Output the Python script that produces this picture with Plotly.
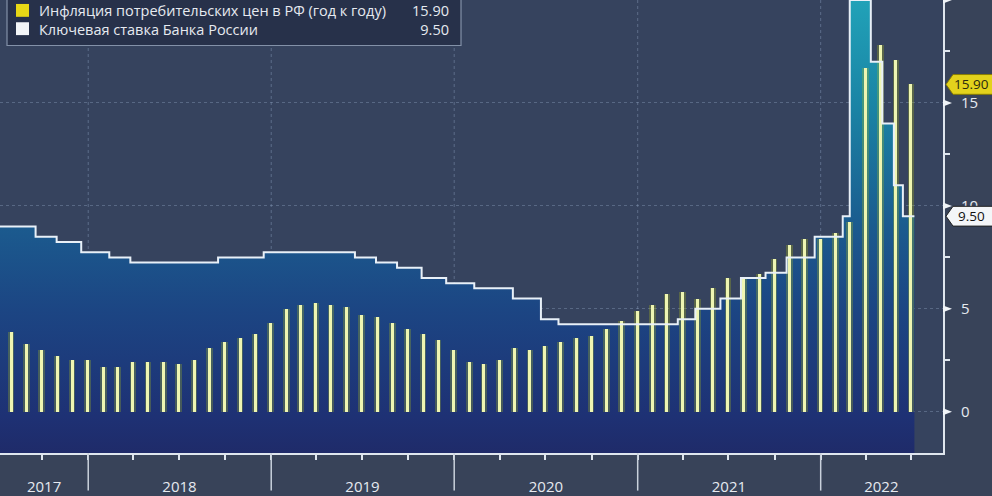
import plotly.graph_objects as go
import pandas as pd

# ---------------- data ----------------
inflation_dates = pd.date_range("2017-07-31", "2022-06-30", freq="ME")
inflation = [3.9, 3.3, 3.0, 2.7, 2.5, 2.5,
             2.2, 2.2, 2.4, 2.4, 2.4, 2.3, 2.5, 3.1, 3.4, 3.6, 3.8, 4.3,
             5.0, 5.2, 5.3, 5.2, 5.1, 4.7, 4.6, 4.3, 4.0, 3.8, 3.5, 3.0,
             2.4, 2.3, 2.5, 3.1, 3.0, 3.2, 3.4, 3.6, 3.7, 4.0, 4.4, 4.9,
             5.2, 5.7, 5.8, 5.5, 6.0, 6.5, 6.5, 6.7, 7.4, 8.1, 8.4, 8.4,
             8.7, 9.2, 16.7, 17.8, 17.1, 15.9]

rate_dates = ["2017-07-09", "2017-09-18", "2017-10-30", "2017-12-18", "2018-02-12",
              "2018-03-26", "2018-09-17", "2018-12-17", "2019-06-17", "2019-07-29",
              "2019-09-09", "2019-10-28", "2019-12-16", "2020-02-10", "2020-04-27",
              "2020-06-22", "2020-07-27", "2021-03-22", "2021-04-26", "2021-06-15",
              "2021-07-26", "2021-09-13", "2021-10-25", "2021-12-20", "2022-02-14",
              "2022-02-28", "2022-04-11", "2022-05-04", "2022-05-27", "2022-06-14",
              "2022-07-07"]
rate_values = [9.00, 8.50, 8.25, 7.75, 7.50,
               7.25, 7.50, 7.75, 7.50, 7.25,
               7.00, 6.50, 6.25, 6.00, 5.50,
               4.50, 4.25, 4.50, 5.00, 5.50,
               6.50, 6.75, 7.50, 8.50, 9.50,
               20.00, 17.00, 14.00, 11.00, 9.50,
               9.50]

series_names = ["Инфляция потребительских цен в РФ (год к году)", "Ключевая ставка Банка России"]
last_values = ["15.90", "9.50"]

year_labels = ["2017", "2018", "2019", "2020", "2021", "2022"]
year_label_pos = ["2017-10-05", "2018-07-02", "2019-07-02", "2020-07-02", "2021-07-02", "2022-05-02"]
year_bounds = ["2018-01-01", "2019-01-01", "2020-01-01", "2021-01-01", "2022-01-01"]
quarter_ticks = [d.strftime("%Y-%m-%d") for d in pd.date_range("2017-10-01", "2022-07-01", freq="QS")]
y_ticks = [0, 5, 10, 15, 20]
y_minor = [2.5, 7.5, 12.5, 17.5]

X_RANGE = ["2017-07-09", "2022-09-02"]
Y_RANGE = [-2, 20]

# ---------------- geometry helpers ----------------
W, H = 992, 496
ML, MR, MT, MB = 0, 49, 0, 38
PW, PH = W - ML - MR, H - MT - MB


def px_x(px):  # pixel -> paper x
    return (px - ML) / PW


def py_y(py):  # pixel from top -> paper y
    return 1 - (py - MT) / PH


def val_y(v):  # data y -> paper y
    return (v - Y_RANGE[0]) / (Y_RANGE[1] - Y_RANGE[0])


DAY_MS = 86400000
BG_PLOT = "#36435e"
BG_PAPER = "#384359"
TXT = "#e6eaf0"
FONT = "Open Sans"

fig = go.Figure()

# baseline for the area fill (bottom of the plot)
fig.add_trace(go.Scatter(x=[X_RANGE[0], rate_dates[-1]], y=[Y_RANGE[0], Y_RANGE[0]],
                         mode="lines", line=dict(width=0, color="rgba(0,0,0,0)"),
                         hoverinfo="skip", showlegend=False))
# key rate area (fill only, on base axis)
fig.add_trace(go.Scatter(
    x=rate_dates, y=rate_values, mode="lines", line_shape="hv",
    line=dict(color="rgba(0,0,0,0)", width=0),
    fill="tonexty",
    fillgradient=dict(type="vertical", start=Y_RANGE[0], stop=Y_RANGE[1],
                      colorscale=[[0.0, "#1f2a68"], [0.09, "#1e3174"], [0.32, "#1c4583"],
                                  [0.50, "#1b5a8e"], [0.77, "#1a84a5"], [1.0, "#21a2b8"]]),
    hoverinfo="skip", showlegend=False))

# inflation bars: glow + core (overlay axis so they sit above the area)
fig.add_trace(go.Bar(x=inflation_dates, y=inflation, width=[13 * DAY_MS] * len(inflation),
                     marker=dict(color="rgba(180,195,20,0.28)", line=dict(width=0)),
                     yaxis="y2", hoverinfo="skip", showlegend=False))
fig.add_trace(go.Bar(x=inflation_dates, y=inflation, width=[6 * DAY_MS] * len(inflation),
                     marker=dict(color="#eef5b2", line=dict(width=0)),
                     yaxis="y2", name=series_names[0], showlegend=False))
# key rate line on top
fig.add_trace(go.Scatter(x=rate_dates, y=rate_values, mode="lines", line_shape="hv",
                         line=dict(color="#e8f0f8", width=2), yaxis="y2",
                         name=series_names[1], showlegend=False))

shapes = []
# vertical faint grid lines at year boundaries + separators below axis
for d in year_bounds:
    shapes.append(dict(type="line", xref="x", yref="paper", x0=d, x1=d, y0=0, y1=1,
                       line=dict(color="rgba(140,160,190,0.45)", width=1, dash="dot"),
                       layer="below"))
    shapes.append(dict(type="line", xref="x", yref="paper", x0=d, x1=d, y0=0, y1=py_y(H),
                       line=dict(color="#c9d1dc", width=1.5), layer="above"))

# triangle markers on the right axis at major ticks
for t in y_ticks:
    yc = val_y(t)
    dy = 3.5 / PH
    shapes.append(dict(type="path", xref="paper", yref="paper",
                       path=f"M {px_x(ML+PW)},{yc+dy} L {px_x(ML+PW+9)},{yc} L {px_x(ML+PW)},{yc-dy} Z",
                       fillcolor="#f0f4f8", line=dict(width=0), layer="above"))

# value tags on the right
tag_specs = [(inflation[-1], "#e3d21c", "#2a2a10", "#8a7d00"),
             (rate_values[-1], "#f4f6f8", "#111111", "#222222")]
annotations = []
for (v, fillc, txtc, linec), label in zip(tag_specs, last_values):
    yc = val_y(v)
    h = 10 / PH
    shapes.append(dict(type="path", xref="paper", yref="paper",
                       path=(f"M {px_x(946)},{yc} L {px_x(953)},{yc+h} L {px_x(998)},{yc+h} "
                             f"L {px_x(998)},{yc-h} L {px_x(953)},{yc-h} Z"),
                       fillcolor=fillc, line=dict(color=linec, width=1), layer="above"))
    annotations.append(dict(xref="paper", yref="paper", x=px_x(972), y=yc, text=label,
                            showarrow=False, xanchor="center", yanchor="middle",
                            font=dict(size=13.5, color=txtc, family=FONT)))

# legend box
shapes.append(dict(type="rect", xref="paper", yref="paper",
                   x0=px_x(7), x1=px_x(461), y0=py_y(46), y1=py_y(-6),
                   fillcolor="#27314a", line=dict(color="#8391a8", width=1.2), layer="above"))
legend_colors = ["#e8d816", "#f4f6f8"]
legend_rows = [10.5, 29]
for col, ry in zip(legend_colors, legend_rows):
    shapes.append(dict(type="rect", xref="paper", yref="paper",
                       x0=px_x(16), x1=px_x(29), y0=py_y(ry + 6.5), y1=py_y(ry - 6.5),
                       fillcolor=col, line=dict(width=0), layer="above"))
annotations.append(dict(xref="paper", yref="paper", x=px_x(37), y=py_y(20.5),
                        text="<br>".join(series_names), align="left",
                        showarrow=False, xanchor="left", yanchor="middle",
                        font=dict(size=14.5, color=TXT, family=FONT)))
annotations.append(dict(xref="paper", yref="paper", x=px_x(451), y=py_y(20.5),
                        text="<br>".join(last_values), align="right",
                        showarrow=False, xanchor="right", yanchor="middle",
                        font=dict(size=14.5, color=TXT, family=FONT)))

fig.update_layout(
    width=W, height=H,
    margin=dict(l=ML, r=MR, t=MT, b=MB, pad=0),
    paper_bgcolor=BG_PAPER, plot_bgcolor=BG_PLOT,
    barmode="overlay", bargap=0,
    showlegend=False,
    font=dict(family=FONT, color=TXT, size=14),
    shapes=shapes, annotations=annotations,
    xaxis=dict(type="date", range=X_RANGE, showgrid=False, zeroline=False,
               showline=True, linecolor="#dfe6ee", linewidth=2,
               tickmode="array", tickvals=year_label_pos, ticktext=year_labels,
               ticks="", ticklabelstandoff=19,
               tickfont=dict(size=15, color=TXT, family=FONT),
               minor=dict(tickmode="array", tickvals=quarter_ticks, ticks="outside",
                          ticklen=5, tickwidth=1.5, tickcolor="#dfe6ee", showgrid=False)),
    yaxis=dict(side="right", range=Y_RANGE, showline=True, linecolor="#dfe6ee", linewidth=2,
               tickmode="array", tickvals=y_ticks, ticks="", ticklabelstandoff=13,
               tickfont=dict(size=15, color=TXT, family=FONT),
               showgrid=True, gridcolor="rgba(140,160,190,0.40)", griddash="dot", gridwidth=1,
               zeroline=False,
               minor=dict(tickmode="array", tickvals=y_minor, ticks="outside", ticklen=5,
                          tickwidth=1.5, tickcolor="#dfe6ee", showgrid=False)),
    yaxis2=dict(overlaying="y", side="right", range=Y_RANGE, visible=False,
                showgrid=False, zeroline=False),
)

fig.write_html("out.html")
